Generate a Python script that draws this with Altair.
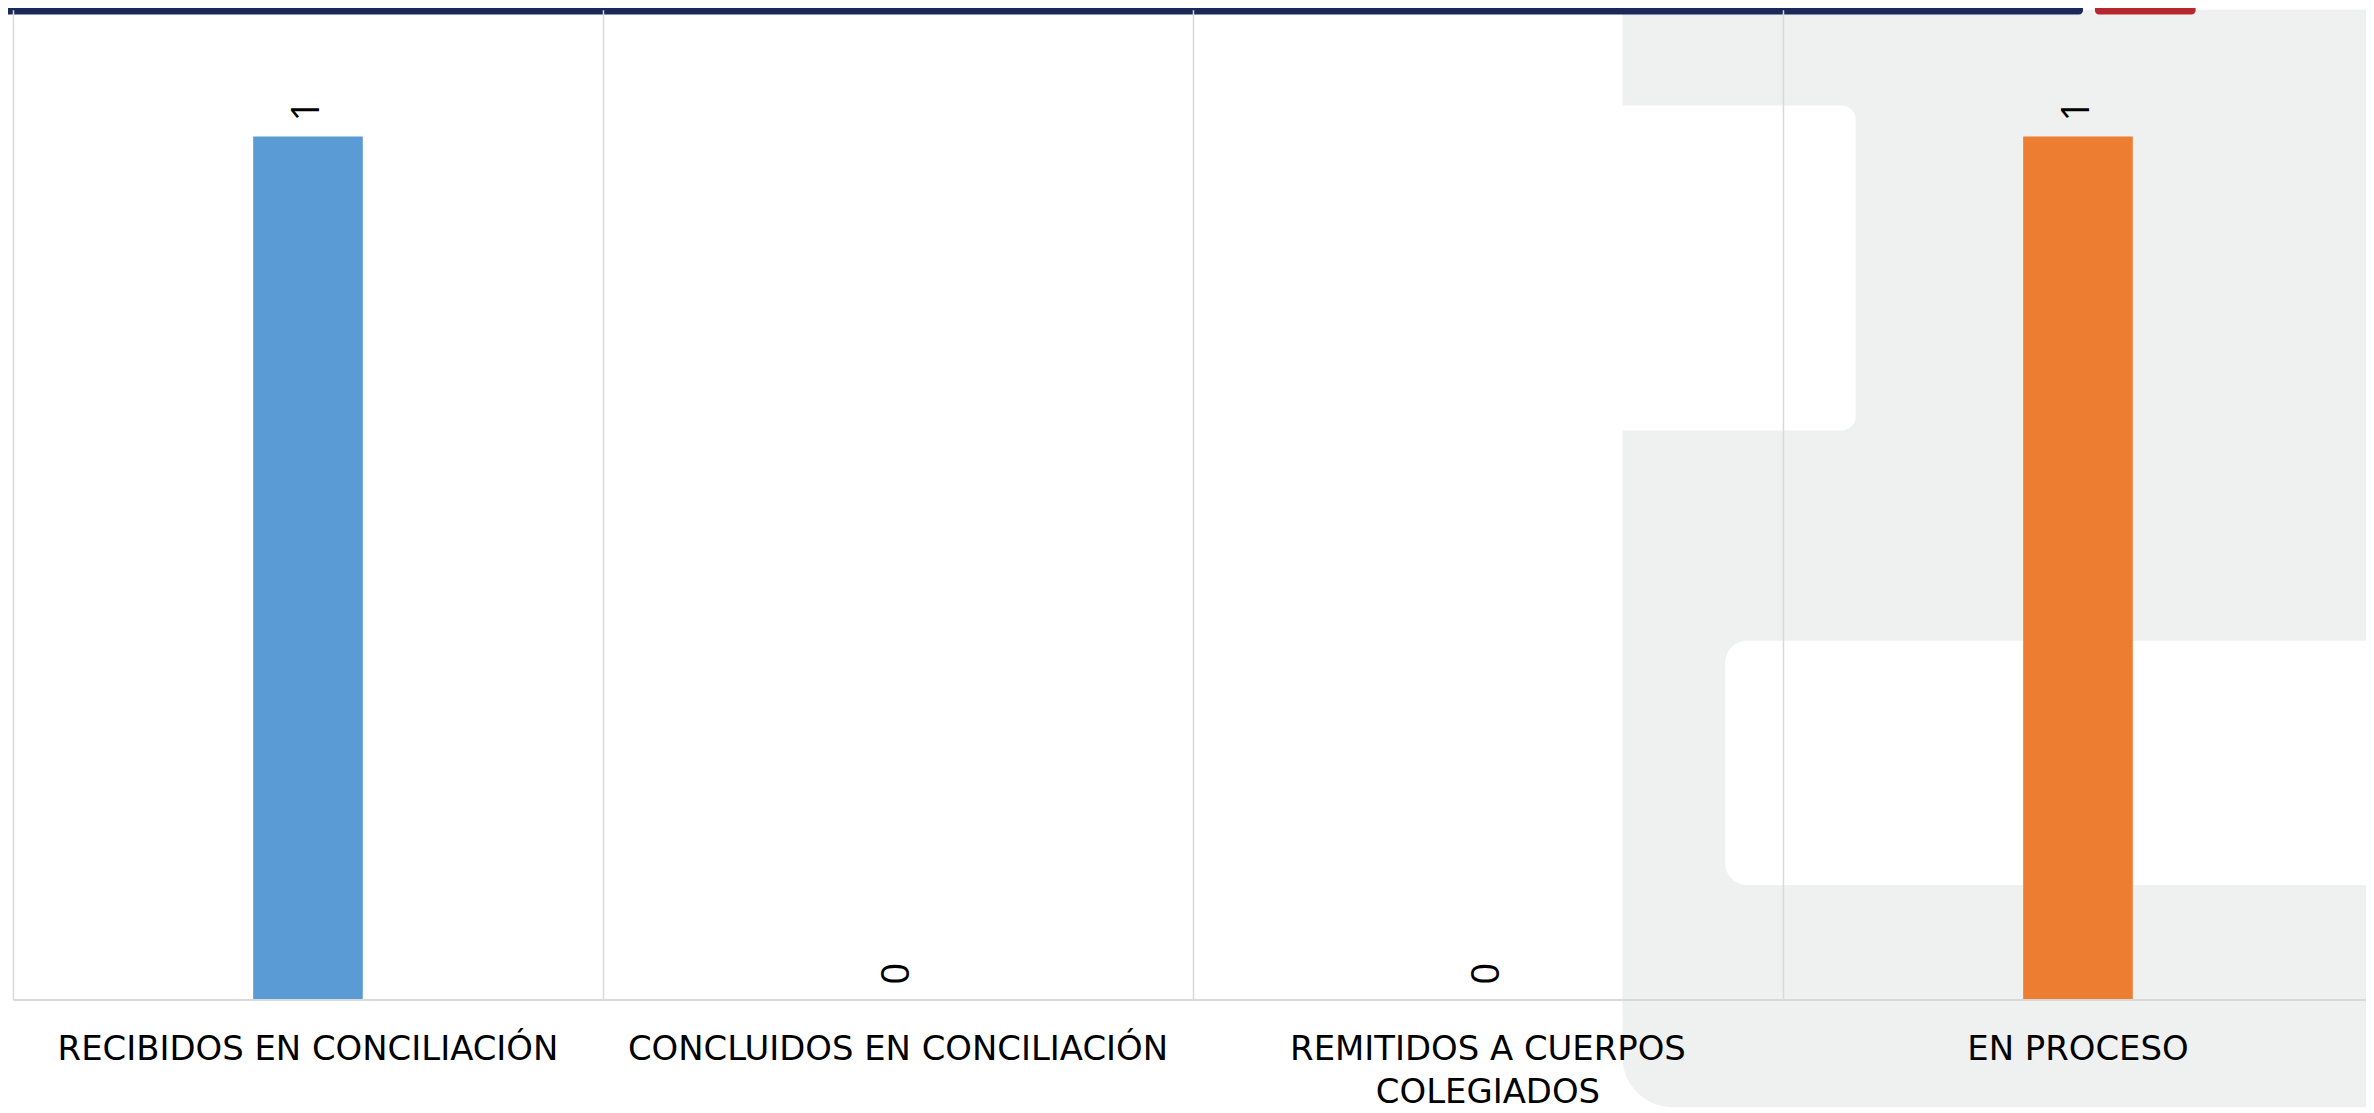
import altair as alt
import pandas as pd

# ---- data ----
categorias = [
    "RECIBIDOS EN CONCILIACIÓN",
    "CONCLUIDOS EN CONCILIACIÓN",
    "REMITIDOS A CUERPOS COLEGIADOS",
    "EN PROCESO",
]
lineas = [
    ["RECIBIDOS EN CONCILIACIÓN"],
    ["CONCLUIDOS EN CONCILIACIÓN"],
    ["REMITIDOS A CUERPOS", "COLEGIADOS"],
    ["EN PROCESO"],
]
valores = [1, 0, 0, 1]
colores = ["#5b9bd5", "#a5a5a5", "#ffc000", "#ed7d31"]

df = pd.DataFrame({"categoria": categorias, "valor": valores})
one = pd.DataFrame({"k": [0]})

W = 2361
H = 993
FONT = "Open Sans"
AXIS_FONT = "DejaVu Sans"

# label expression building multi-line labels from the lists above
parts = []
for cat, ls in zip(categorias, lineas):
    arr = "[" + ", ".join("'" + s + "'" for s in ls) + "]"
    parts.append(f"datum.value == '{cat}' ? {arr} : ")
label_expr = "".join(parts) + "datum.value"

x_scale = alt.Scale(domain=categorias, range=[0, 2368], paddingInner=0, paddingOuter=0)
y_scale = alt.Scale(domain=[0, 1.1467], nice=False, zero=True)

x_axis = alt.Axis(
    title=None,
    labelAngle=0,
    labelFont=AXIS_FONT,
    labelFontSize=34,
    labelColor="#000000",
    labelPadding=33,
    labelBaseline="top",
    labelLineHeight=43,
    labelLimit=0,
    labelExpr=label_expr,
    ticks=False,
    domain=True,
    domainColor="#d9d9d9",
    domainWidth=2,
    grid=True,
    gridColor="#d9d9d9",
    gridWidth=1.5,
    bandPosition=0,
    zindex=1,
)

x_enc = alt.X("categoria:N", scale=x_scale, axis=x_axis, sort=categorias)
y_enc = alt.Y("valor:Q", scale=y_scale, axis=None)

# ---- decorative slide background ----
GRAY = "#eff0f0"
gray_bg = alt.Chart(one).mark_rect(color=GRAY, cornerRadiusBottomLeft=50).encode(
    x=alt.value(1615), x2=alt.value(2420), y=alt.value(0), y2=alt.value(1101)
)
white_cut1 = alt.Chart(one).mark_rect(color="#ffffff", cornerRadius=14).encode(
    x=alt.value(1560), x2=alt.value(1849), y=alt.value(96), y2=alt.value(422)
)
white_cut2 = alt.Chart(one).mark_rect(color="#ffffff", cornerRadius=22).encode(
    x=alt.value(1718), x2=alt.value(2450), y=alt.value(633), y2=alt.value(878)
)
navy_band = alt.Chart(one).mark_rect(color="#1b2858", cornerRadius=4).encode(
    x=alt.value(-20), x2=alt.value(2077), y=alt.value(-10), y2=alt.value(4.7)
)
red_band = alt.Chart(one).mark_rect(color="#b7282e", cornerRadius=4).encode(
    x=alt.value(2089), x2=alt.value(2190), y=alt.value(-10), y2=alt.value(4.7)
)

# ---- data marks ----
bars = alt.Chart(df).mark_bar(size=110).encode(
    x=x_enc,
    y=y_enc,
    color=alt.Color("categoria:N", scale=alt.Scale(domain=categorias, range=colores), legend=None),
)

labels = alt.Chart(df).mark_text(
    angle=270, align="left", baseline="middle", dx=15,
    font=FONT, fontSize=38, color="#000000",
).encode(
    x=x_enc,
    y=y_enc,
    text=alt.Text("valor:Q", format="d"),
)

chart = alt.layer(
    gray_bg, white_cut1, white_cut2, navy_band, red_band, bars, labels
).properties(
    width=W,
    height=H,
    autosize=alt.AutoSizeParams(type="none"),
    padding={"left": 5, "top": 0, "right": 0, "bottom": 112},
    background="#ffffff",
).configure_view(strokeWidth=0)

chart.save("out.html", embed_options={"renderer": "svg", "actions": False})
